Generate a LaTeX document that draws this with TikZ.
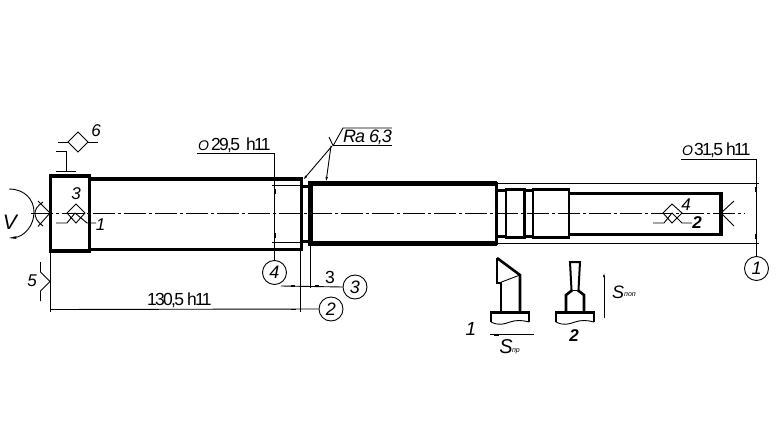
\documentclass[tikz,border=0pt]{standalone}
\usepackage{fontspec}
\setmainfont{Liberation Sans}
\usetikzlibrary{arrows.meta}
\tikzset{
 x=1pt,y=-1pt,
 thin line/.style={line width=0.9pt,black},
 thick1/.style={line width=3.4pt,black,line join=miter},
 thick2/.style={line width=2.6pt,black,line join=miter},
 thick3/.style={line width=4.4pt,black,line join=miter},
 toolline/.style={line width=2.6pt,black,line join=miter},
 axis/.style={line width=0.9pt,dash pattern=on 22pt off 3pt on 3pt off 3pt},
 lab/.style={inner sep=0pt,font=\fontsize{17}{17}\selectfont\itshape},
 dim/.style={inner sep=0pt,anchor=base west,font=\fontsize{17.5}{17.5}\selectfont\addfontfeature{LetterSpace=-10}},
 dia/.style={inner sep=0pt,anchor=base west,font=\fontsize{14}{14}\selectfont\itshape},
 num/.style={circle,draw,line width=0.9pt,minimum size=24pt,inner sep=0pt,font=\fontsize{18}{18}\selectfont\itshape},
 diam/.style={line width=0.9pt},
 tip/.style={-{Latex[length=5pt,width=2.5pt]}},
 sub/.style={inner sep=0pt,font=\fontsize{7}{7}\selectfont\itshape},
}
\begin{document}
\begin{tikzpicture}
\useasboundingbox (0,0) rectangle (780,447);
\fill[white] (0,0) rectangle (780,447);
% centre line
\draw[axis] (31,213) -- (745,213);
% outline
\draw[thick1] (50.5,176) rectangle (89.5,251);
\draw[thick1] (89,179) -- (301.5,179) -- (301.5,249.5) -- (89,249.5);
\draw[thick2] (302,186.5) -- (311,186.5);
\draw[thick2] (302,241.5) -- (311,241.5);
\draw[thick3] (497,183.5) -- (310.5,183.5) -- (310.5,243.5) -- (497,243.5);
\draw[thick1] (496.5,182) -- (496.5,245);
\draw[thick2] (497,190.5) rectangle (506,236.5);
\draw[thick2] (506,189.5) rectangle (524.5,237.5);
\draw[thick2] (524.5,190.5) -- (533,190.5);
\draw[thick2] (524.5,236.5) -- (533,236.5);
\draw[thick2] (533,189.5) rectangle (569,237.5);
\draw[thick1] (569,193.5) -- (721,193.5) -- (721,234.5) -- (569,234.5);
% envelope thin lines
\draw[thin line] (497,183.5) -- (759,183.5);
\draw[thin line] (497,243.5) -- (759,243.5);
% left symbols
\draw[thin line,-{Stealth[length=8pt,width=3pt]}] (9,189) .. controls (25,189) and (34,200) .. (34,212) .. controls (34,226) and (24,237) .. (9,238);
\node[lab,font=\fontsize{21}{21}\selectfont\itshape] (v) at (10,222) {V};
\draw[thin line] (50,213) -- (38,201);
\draw[thin line] (50,213) -- (38,226.5);
\draw[thin line] (43,202) .. controls (37,206) and (35,210) .. (35,213) .. controls (35,217) and (37,222) .. (43,226);
% tolerance / locators left
\draw[diam] (76,204) -- (85,213) -- (76,223) -- (67,213) -- cycle;
\draw[diam] (56,223) -- (67,223) -- (75,213) -- (87,223) -- (96,223);
\fill (71,218) circle (1.2pt);
\node[lab] (t3) at (76,193.5) {3};
\node[lab] (t1) at (100.5,225) {1};
% 6
\draw[diam] (78,132) -- (88,142) -- (78,152) -- (68,142) -- cycle;
\draw[diam] (58,142) -- (68,142);
\draw[diam] (88,142) -- (98,142);
\draw[diam] (56,151) -- (66,151) -- (66,171);
\draw[diam] (56,171) -- (76,171);
\node[lab] (t6) at (96,131) {6};
% 5
\draw[thin line] (50.5,251) -- (50.5,312);
\draw[thin line] (50,281.5) -- (40.5,272) -- (40.5,262);
\draw[thin line] (50,281.5) -- (40.5,291) -- (40.5,301);
\node[lab] (t5) at (32,281) {5};
% dim 130,5
\node[num] (c2) at (331,309) {2};
\draw[thin line] (50.5,309.5) -- (c2.west);
\fill (55,308.8) rectangle (60,310.2);
\fill (291,308.8) rectangle (296,310.2);
\draw[thin line] (300.5,250) -- (300.5,312);
\node[dim] (d1) at (147,305) {130,5 h11};
% dim 29,5
\node[num] (c4) at (274.5,272.5) {4};
\draw[thin line] (197,153.5) -- (274.5,153.5) -- (c4.north);
\fill (273.5,189) rectangle (275.5,194);
\fill (273.5,233) rectangle (275.5,238);
\draw[thin line] (272,185) -- (301,185);
\draw[thin line] (272,242) -- (301,242);
\node[dia] (o1) at (198,150) {O};
\node[dim] (d2) at (211,150) {29,5\hspace{3pt} h11};
% dim 3
\node[num] (c3) at (355,287) {3};
\draw[thin line] (310.5,245) -- (310.5,288);
\draw[thin line] (281,286) -- (c3.west);
\fill (291,285) rectangle (295,287);
\fill (315,285) rectangle (319,287);
\node[dim] (d3n) at (325,283) {3};
% roughness
\draw[thin line] (333,145.5) -- (329,137);
\draw[thin line] (333,146) -- (343,128) -- (392,128);
\draw[thin line] (333,145.5) -- (392,145.5);
\draw[thin line,tip] (332,146) -- (303,180);
\draw[thin line,tip] (331,146) -- (326,182);
\node[dim,font=\fontsize{18}{18}\selectfont\itshape\addfontfeature{LetterSpace=-6}] (ra) at (343,142) {Ra 6,3};
% dim 31,5
\node[num] (c1) at (756.5,268.5) {1};
\draw[thin line] (681,159.5) -- (756.5,159.5) -- (c1.north);
\fill (755,187) rectangle (757,192);
\fill (755,234) rectangle (757,239);
\node[dia] (o2) at (682,155) {O};
\node[dim] (d4) at (694,155) {31,5 h11};
% right locators
\draw[diam] (672,204) -- (682,213) -- (672,223) -- (663,213) -- cycle;
\draw[diam] (653,223) -- (664,223) -- (672,213) -- (682,223) -- (692,223);
\node[lab] (t4) at (686,205) {4};
\node[lab,font=\fontsize{17}{17}\selectfont\bfseries\itshape] (t2) at (697,223) {2};
\draw[thin line] (721,213) -- (734,201);
\draw[thin line] (721,213) -- (734,226);
% tool 1
\draw[toolline] (497,258) -- (520,275) -- (520,312);
\draw[toolline] (497,258) -- (497,283) -- (501,283) -- (501,312);
\draw[line width=0.9pt] (499,283) -- (520,275);
\draw[toolline] (491,322) -- (491,312.5) -- (529,312.5) -- (529,322);
\draw[line width=0.9pt] (491,322) .. controls (499,326) and (504,324) .. (510,322) .. controls (516,320) and (522,320) .. (529,322);
\node[lab,font=\fontsize{19}{19}\selectfont\itshape] (t11) at (471,329) {1};
\draw[thin line] (490,334.5) -- (534,334.5);
\fill (494,334) rectangle (499,335.5);
\node[lab,font=\fontsize{20}{20}\selectfont\itshape] (s1) at (506,347) {S};
\node[sub] (s1b) at (516,351) {пр};
% tool 2
\draw[line width=2pt,line join=miter] (571.5,290) -- (570,262) -- (580,262) -- (578.5,290);
\draw[toolline] (572.5,290) -- (566,295) -- (566,312);
\draw[toolline] (577.5,290) -- (584,295) -- (584,312);
\draw[line width=1pt] (573,290) -- (577,290);
\draw[toolline] (556,322) -- (556,312.5) -- (594,312.5) -- (594,322);
\draw[line width=0.9pt] (556,322) .. controls (564,326) and (569,324) .. (575,322) .. controls (581,320) and (587,320) .. (594,322);
\node[lab,font=\fontsize{17}{17}\selectfont\bfseries\itshape] (t22) at (574,336) {2};
\draw[thin line,-{Latex[length=6pt,width=2pt]}] (604,318) -- (604,271);
\node[lab,font=\fontsize{18}{18}\selectfont\itshape] (s2) at (618,292) {S};
\node[sub] (s2b) at (630,295) {поп};
\end{tikzpicture}
\end{document}
